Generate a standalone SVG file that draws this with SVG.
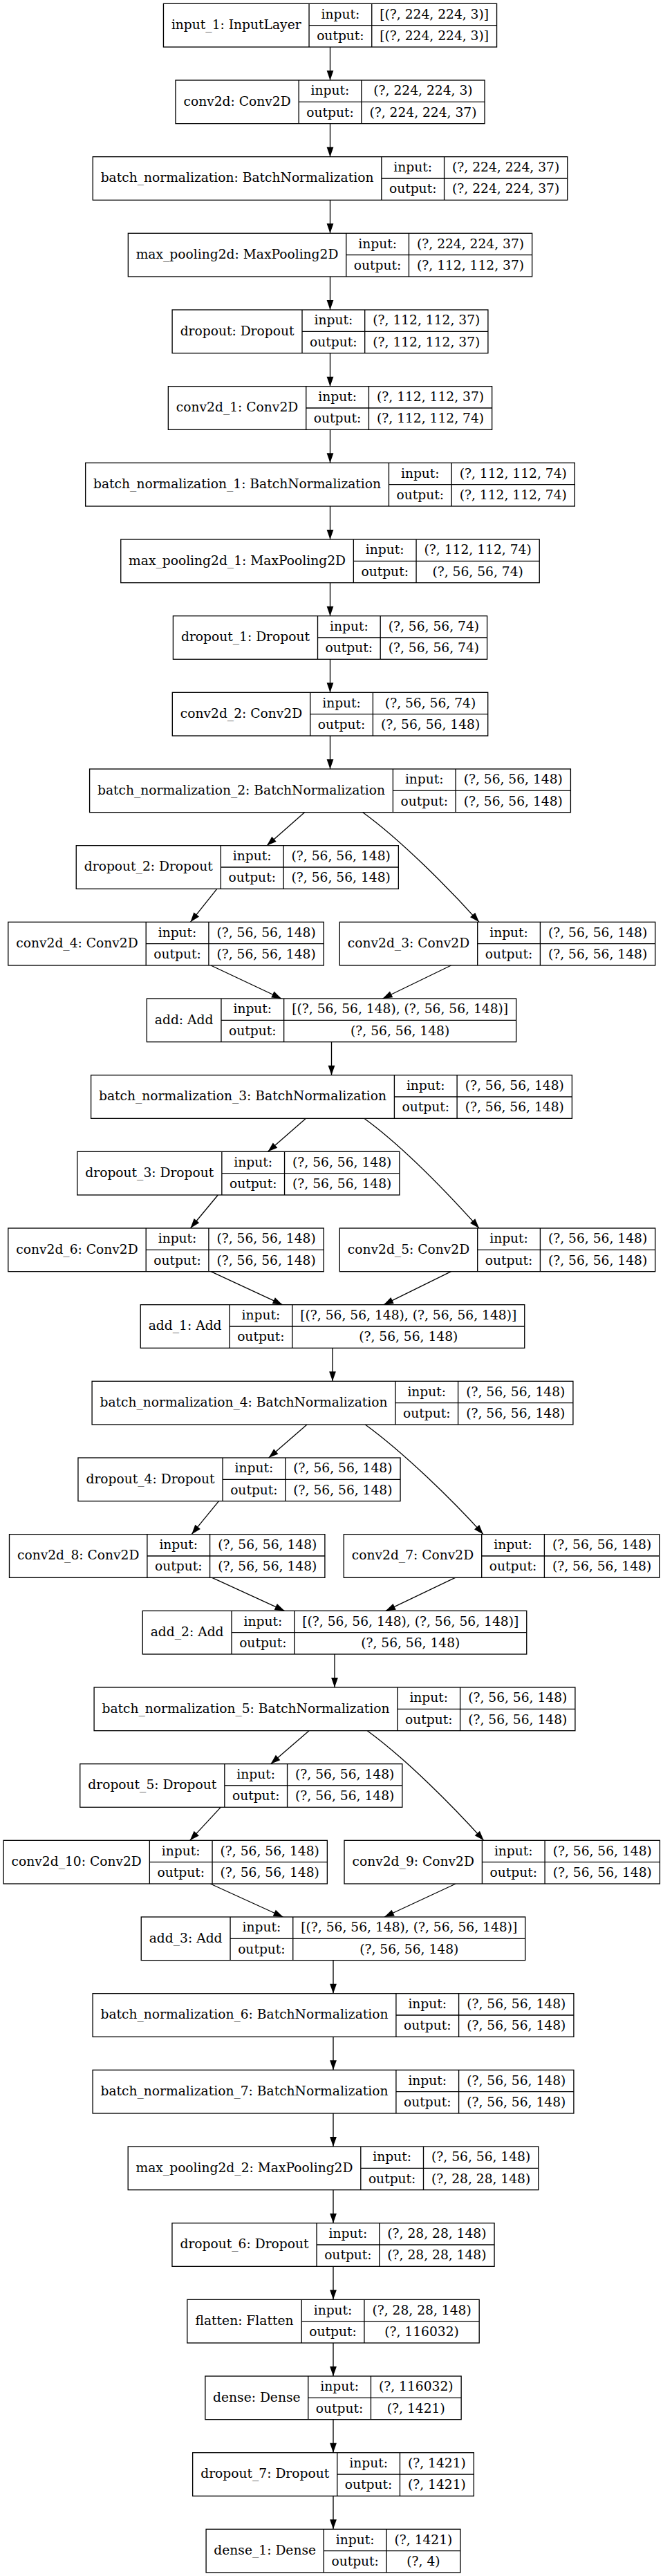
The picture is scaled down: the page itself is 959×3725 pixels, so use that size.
<svg xmlns="http://www.w3.org/2000/svg" width="959" height="3725" viewBox="0 0 959 3725">
<style>
.b{fill:#fff;stroke:#000;stroke-width:1.33}
.d{fill:none;stroke:#000;stroke-width:1.33}
.t{font-family:"DejaVu Serif","Liberation Serif",serif;font-size:18.67px;text-anchor:middle;fill:#000}
.e{fill:none;stroke:#000;stroke-width:1.33;marker-end:url(#ah)}
</style>
<defs>
<marker id="ah" markerUnits="userSpaceOnUse" markerWidth="14" markerHeight="10" refX="13.33" refY="4.67" orient="auto" viewBox="0 0 13.33 9.33" overflow="visible">
<path d="M0,0L13.33,4.67L0,9.33z" fill="#000"/>
</marker>
</defs>
<rect width="959" height="3725" fill="#fff"/>
<g id="connectors">
<path class="e" d="M477.5,68V116"/>
<path class="e" d="M477.5,178.67V226.67"/>
<path class="e" d="M477.5,289.33V337.33"/>
<path class="e" d="M477.5,400V448"/>
<path class="e" d="M477.5,510.67V558.67"/>
<path class="e" d="M477.5,621.33V669.33"/>
<path class="e" d="M477.5,732V780"/>
<path class="e" d="M477.5,842.67V890.67"/>
<path class="e" d="M477.5,953.33V1001.33"/>
<path class="e" d="M477.5,1064V1112"/>
<path class="e" d="M440.5,1174.67L386,1222.67"/>
<path class="e" d="M524.8,1174.67C579.8,1214.67 648,1283.33 693,1333.33"/>
<path class="e" d="M313.8,1285.33L275.5,1333.33"/>
<path class="e" d="M305,1396L407,1444"/>
<path class="e" d="M652.5,1396L553.5,1444"/>
<path class="e" d="M479.5,1506.67V1554.67"/>
<path class="e" d="M442.5,1617.33L387.5,1665.33"/>
<path class="e" d="M526.8,1617.33C581.8,1657.33 648,1726 693,1776"/>
<path class="e" d="M315.3,1728L275.5,1776"/>
<path class="e" d="M305,1838.67L408.5,1886.67"/>
<path class="e" d="M652.5,1838.67L555,1886.67"/>
<path class="e" d="M481,1949.33V1997.33"/>
<path class="e" d="M444,2060L388.7,2108"/>
<path class="e" d="M528.3,2060C583.3,2100 654,2168.67 699,2218.67"/>
<path class="e" d="M316.5,2170.67L277.2,2218.67"/>
<path class="e" d="M306.7,2281.33L411.5,2329.33"/>
<path class="e" d="M658.5,2281.33L558,2329.33"/>
<path class="e" d="M484,2392V2440"/>
<path class="e" d="M447,2502.67L391.5,2550.67"/>
<path class="e" d="M531.3,2502.67C586.3,2542.67 654.7,2611.33 699.7,2661.33"/>
<path class="e" d="M319.3,2613.33L274.7,2661.33"/>
<path class="e" d="M304.2,2724L409.5,2772"/>
<path class="e" d="M659.2,2724L556,2772"/>
<path class="e" d="M482,2834.67V2882.67"/>
<path class="e" d="M482,2945.33V2993.33"/>
<path class="e" d="M482,3056V3104"/>
<path class="e" d="M482,3166.67V3214.67"/>
<path class="e" d="M482,3277.33V3325.33"/>
<path class="e" d="M482,3388V3436"/>
<path class="e" d="M482,3498.67V3546.67"/>
<path class="e" d="M482,3609.33V3657.33"/>
</g>

<g id="input_1" transform="translate(236.45,5.33)">
<rect class="b" width="482.1" height="62.67"/>
<path class="d" d="M210.6,0V62.67M301.3,0V62.67M210.6,31.33H482.1"/>
<text class="t" x="105.3" y="36.8">input_1: InputLayer</text>
<text class="t" x="255.95" y="21.2">input:</text>
<text class="t" x="255.95" y="52.5">output:</text>
<text class="t" x="391.7" y="21.2">[(?, 224, 224, 3)]</text>
<text class="t" x="391.7" y="52.5">[(?, 224, 224, 3)]</text>
</g>
<g id="conv2d" transform="translate(253.95,116)">
<rect class="b" width="447.1" height="62.67"/>
<path class="d" d="M178.2,0V62.67M268.9,0V62.67M178.2,31.33H447.1"/>
<text class="t" x="89.1" y="36.8">conv2d: Conv2D</text>
<text class="t" x="223.55" y="21.2">input:</text>
<text class="t" x="223.55" y="52.5">output:</text>
<text class="t" x="358" y="21.2">(?, 224, 224, 3)</text>
<text class="t" x="358" y="52.5">(?, 224, 224, 37)</text>
</g>
<g id="batch_normalization" transform="translate(134.25,226.67)">
<rect class="b" width="686.5" height="62.67"/>
<path class="d" d="M417.6,0V62.67M508.3,0V62.67M417.6,31.33H686.5"/>
<text class="t" x="208.8" y="36.8">batch_normalization: BatchNormalization</text>
<text class="t" x="462.95" y="21.2">input:</text>
<text class="t" x="462.95" y="52.5">output:</text>
<text class="t" x="597.4" y="21.2">(?, 224, 224, 37)</text>
<text class="t" x="597.4" y="52.5">(?, 224, 224, 37)</text>
</g>
<g id="max_pooling2d" transform="translate(185.35,337.33)">
<rect class="b" width="584.3" height="62.67"/>
<path class="d" d="M315.4,0V62.67M406.1,0V62.67M315.4,31.33H584.3"/>
<text class="t" x="157.7" y="36.8">max_pooling2d: MaxPooling2D</text>
<text class="t" x="360.75" y="21.2">input:</text>
<text class="t" x="360.75" y="52.5">output:</text>
<text class="t" x="495.2" y="21.2">(?, 224, 224, 37)</text>
<text class="t" x="495.2" y="52.5">(?, 112, 112, 37)</text>
</g>
<g id="dropout" transform="translate(249.1,448)">
<rect class="b" width="456.8" height="62.67"/>
<path class="d" d="M187.9,0V62.67M278.6,0V62.67M187.9,31.33H456.8"/>
<text class="t" x="93.95" y="36.8">dropout: Dropout</text>
<text class="t" x="233.25" y="21.2">input:</text>
<text class="t" x="233.25" y="52.5">output:</text>
<text class="t" x="367.7" y="21.2">(?, 112, 112, 37)</text>
<text class="t" x="367.7" y="52.5">(?, 112, 112, 37)</text>
</g>
<g id="conv2d_1" transform="translate(243.35,558.67)">
<rect class="b" width="468.3" height="62.67"/>
<path class="d" d="M199.4,0V62.67M290.1,0V62.67M199.4,31.33H468.3"/>
<text class="t" x="99.7" y="36.8">conv2d_1: Conv2D</text>
<text class="t" x="244.75" y="21.2">input:</text>
<text class="t" x="244.75" y="52.5">output:</text>
<text class="t" x="379.2" y="21.2">(?, 112, 112, 37)</text>
<text class="t" x="379.2" y="52.5">(?, 112, 112, 74)</text>
</g>
<g id="batch_normalization_1" transform="translate(123.65,669.33)">
<rect class="b" width="707.7" height="62.67"/>
<path class="d" d="M438.8,0V62.67M529.5,0V62.67M438.8,31.33H707.7"/>
<text class="t" x="219.4" y="36.8">batch_normalization_1: BatchNormalization</text>
<text class="t" x="484.15" y="21.2">input:</text>
<text class="t" x="484.15" y="52.5">output:</text>
<text class="t" x="618.6" y="21.2">(?, 112, 112, 74)</text>
<text class="t" x="618.6" y="52.5">(?, 112, 112, 74)</text>
</g>
<g id="max_pooling2d_1" transform="translate(174.75,780)">
<rect class="b" width="605.5" height="62.67"/>
<path class="d" d="M336.6,0V62.67M427.3,0V62.67M336.6,31.33H605.5"/>
<text class="t" x="168.3" y="36.8">max_pooling2d_1: MaxPooling2D</text>
<text class="t" x="381.95" y="21.2">input:</text>
<text class="t" x="381.95" y="52.5">output:</text>
<text class="t" x="516.4" y="21.2">(?, 112, 112, 74)</text>
<text class="t" x="516.4" y="52.5">(?, 56, 56, 74)</text>
</g>
<g id="dropout_1" transform="translate(250.4,890.67)">
<rect class="b" width="454.2" height="62.67"/>
<path class="d" d="M209.1,0V62.67M299.8,0V62.67M209.1,31.33H454.2"/>
<text class="t" x="104.55" y="36.8">dropout_1: Dropout</text>
<text class="t" x="254.45" y="21.2">input:</text>
<text class="t" x="254.45" y="52.5">output:</text>
<text class="t" x="377" y="21.2">(?, 56, 56, 74)</text>
<text class="t" x="377" y="52.5">(?, 56, 56, 74)</text>
</g>
<g id="conv2d_2" transform="translate(249.3,1001.33)">
<rect class="b" width="456.4" height="62.67"/>
<path class="d" d="M199.4,0V62.67M290.1,0V62.67M199.4,31.33H456.4"/>
<text class="t" x="99.7" y="36.8">conv2d_2: Conv2D</text>
<text class="t" x="244.75" y="21.2">input:</text>
<text class="t" x="244.75" y="52.5">output:</text>
<text class="t" x="373.25" y="21.2">(?, 56, 56, 74)</text>
<text class="t" x="373.25" y="52.5">(?, 56, 56, 148)</text>
</g>
<g id="batch_normalization_2" transform="translate(129.6,1112)">
<rect class="b" width="695.8" height="62.67"/>
<path class="d" d="M438.8,0V62.67M529.5,0V62.67M438.8,31.33H695.8"/>
<text class="t" x="219.4" y="36.8">batch_normalization_2: BatchNormalization</text>
<text class="t" x="484.15" y="21.2">input:</text>
<text class="t" x="484.15" y="52.5">output:</text>
<text class="t" x="612.65" y="21.2">(?, 56, 56, 148)</text>
<text class="t" x="612.65" y="52.5">(?, 56, 56, 148)</text>
</g>
<g id="dropout_2" transform="translate(110.25,1222.67)">
<rect class="b" width="466.1" height="62.67"/>
<path class="d" d="M209.1,0V62.67M299.8,0V62.67M209.1,31.33H466.1"/>
<text class="t" x="104.55" y="36.8">dropout_2: Dropout</text>
<text class="t" x="254.45" y="21.2">input:</text>
<text class="t" x="254.45" y="52.5">output:</text>
<text class="t" x="382.95" y="21.2">(?, 56, 56, 148)</text>
<text class="t" x="382.95" y="52.5">(?, 56, 56, 148)</text>
</g>
<g id="conv2d_4" transform="translate(11.8,1333.33)">
<rect class="b" width="456.4" height="62.67"/>
<path class="d" d="M199.4,0V62.67M290.1,0V62.67M199.4,31.33H456.4"/>
<text class="t" x="99.7" y="36.8">conv2d_4: Conv2D</text>
<text class="t" x="244.75" y="21.2">input:</text>
<text class="t" x="244.75" y="52.5">output:</text>
<text class="t" x="373.25" y="21.2">(?, 56, 56, 148)</text>
<text class="t" x="373.25" y="52.5">(?, 56, 56, 148)</text>
</g>
<g id="conv2d_3" transform="translate(491.3,1333.33)">
<rect class="b" width="456.4" height="62.67"/>
<path class="d" d="M199.4,0V62.67M290.1,0V62.67M199.4,31.33H456.4"/>
<text class="t" x="99.7" y="36.8">conv2d_3: Conv2D</text>
<text class="t" x="244.75" y="21.2">input:</text>
<text class="t" x="244.75" y="52.5">output:</text>
<text class="t" x="373.25" y="21.2">(?, 56, 56, 148)</text>
<text class="t" x="373.25" y="52.5">(?, 56, 56, 148)</text>
</g>
<g id="add" transform="translate(212.35,1444)">
<rect class="b" width="534.3" height="62.67"/>
<path class="d" d="M107.6,0V62.67M198.3,0V62.67M107.6,31.33H534.3"/>
<text class="t" x="53.8" y="36.8">add: Add</text>
<text class="t" x="152.95" y="21.2">input:</text>
<text class="t" x="152.95" y="52.5">output:</text>
<text class="t" x="366.3" y="21.2">[(?, 56, 56, 148), (?, 56, 56, 148)]</text>
<text class="t" x="366.3" y="52.5">(?, 56, 56, 148)</text>
</g>
<g id="batch_normalization_3" transform="translate(131.6,1554.67)">
<rect class="b" width="695.8" height="62.67"/>
<path class="d" d="M438.8,0V62.67M529.5,0V62.67M438.8,31.33H695.8"/>
<text class="t" x="219.4" y="36.8">batch_normalization_3: BatchNormalization</text>
<text class="t" x="484.15" y="21.2">input:</text>
<text class="t" x="484.15" y="52.5">output:</text>
<text class="t" x="612.65" y="21.2">(?, 56, 56, 148)</text>
<text class="t" x="612.65" y="52.5">(?, 56, 56, 148)</text>
</g>
<g id="dropout_3" transform="translate(111.75,1665.33)">
<rect class="b" width="466.1" height="62.67"/>
<path class="d" d="M209.1,0V62.67M299.8,0V62.67M209.1,31.33H466.1"/>
<text class="t" x="104.55" y="36.8">dropout_3: Dropout</text>
<text class="t" x="254.45" y="21.2">input:</text>
<text class="t" x="254.45" y="52.5">output:</text>
<text class="t" x="382.95" y="21.2">(?, 56, 56, 148)</text>
<text class="t" x="382.95" y="52.5">(?, 56, 56, 148)</text>
</g>
<g id="conv2d_6" transform="translate(11.8,1776)">
<rect class="b" width="456.4" height="62.67"/>
<path class="d" d="M199.4,0V62.67M290.1,0V62.67M199.4,31.33H456.4"/>
<text class="t" x="99.7" y="36.8">conv2d_6: Conv2D</text>
<text class="t" x="244.75" y="21.2">input:</text>
<text class="t" x="244.75" y="52.5">output:</text>
<text class="t" x="373.25" y="21.2">(?, 56, 56, 148)</text>
<text class="t" x="373.25" y="52.5">(?, 56, 56, 148)</text>
</g>
<g id="conv2d_5" transform="translate(491.3,1776)">
<rect class="b" width="456.4" height="62.67"/>
<path class="d" d="M199.4,0V62.67M290.1,0V62.67M199.4,31.33H456.4"/>
<text class="t" x="99.7" y="36.8">conv2d_5: Conv2D</text>
<text class="t" x="244.75" y="21.2">input:</text>
<text class="t" x="244.75" y="52.5">output:</text>
<text class="t" x="373.25" y="21.2">(?, 56, 56, 148)</text>
<text class="t" x="373.25" y="52.5">(?, 56, 56, 148)</text>
</g>
<g id="add_1" transform="translate(203.25,1886.67)">
<rect class="b" width="555.5" height="62.67"/>
<path class="d" d="M128.8,0V62.67M219.5,0V62.67M128.8,31.33H555.5"/>
<text class="t" x="64.4" y="36.8">add_1: Add</text>
<text class="t" x="174.15" y="21.2">input:</text>
<text class="t" x="174.15" y="52.5">output:</text>
<text class="t" x="387.5" y="21.2">[(?, 56, 56, 148), (?, 56, 56, 148)]</text>
<text class="t" x="387.5" y="52.5">(?, 56, 56, 148)</text>
</g>
<g id="batch_normalization_4" transform="translate(133.1,1997.33)">
<rect class="b" width="695.8" height="62.67"/>
<path class="d" d="M438.8,0V62.67M529.5,0V62.67M438.8,31.33H695.8"/>
<text class="t" x="219.4" y="36.8">batch_normalization_4: BatchNormalization</text>
<text class="t" x="484.15" y="21.2">input:</text>
<text class="t" x="484.15" y="52.5">output:</text>
<text class="t" x="612.65" y="21.2">(?, 56, 56, 148)</text>
<text class="t" x="612.65" y="52.5">(?, 56, 56, 148)</text>
</g>
<g id="dropout_4" transform="translate(112.95,2108)">
<rect class="b" width="466.1" height="62.67"/>
<path class="d" d="M209.1,0V62.67M299.8,0V62.67M209.1,31.33H466.1"/>
<text class="t" x="104.55" y="36.8">dropout_4: Dropout</text>
<text class="t" x="254.45" y="21.2">input:</text>
<text class="t" x="254.45" y="52.5">output:</text>
<text class="t" x="382.95" y="21.2">(?, 56, 56, 148)</text>
<text class="t" x="382.95" y="52.5">(?, 56, 56, 148)</text>
</g>
<g id="conv2d_8" transform="translate(13.5,2218.67)">
<rect class="b" width="456.4" height="62.67"/>
<path class="d" d="M199.4,0V62.67M290.1,0V62.67M199.4,31.33H456.4"/>
<text class="t" x="99.7" y="36.8">conv2d_8: Conv2D</text>
<text class="t" x="244.75" y="21.2">input:</text>
<text class="t" x="244.75" y="52.5">output:</text>
<text class="t" x="373.25" y="21.2">(?, 56, 56, 148)</text>
<text class="t" x="373.25" y="52.5">(?, 56, 56, 148)</text>
</g>
<g id="conv2d_7" transform="translate(497.3,2218.67)">
<rect class="b" width="456.4" height="62.67"/>
<path class="d" d="M199.4,0V62.67M290.1,0V62.67M199.4,31.33H456.4"/>
<text class="t" x="99.7" y="36.8">conv2d_7: Conv2D</text>
<text class="t" x="244.75" y="21.2">input:</text>
<text class="t" x="244.75" y="52.5">output:</text>
<text class="t" x="373.25" y="21.2">(?, 56, 56, 148)</text>
<text class="t" x="373.25" y="52.5">(?, 56, 56, 148)</text>
</g>
<g id="add_2" transform="translate(206.25,2329.33)">
<rect class="b" width="555.5" height="62.67"/>
<path class="d" d="M128.8,0V62.67M219.5,0V62.67M128.8,31.33H555.5"/>
<text class="t" x="64.4" y="36.8">add_2: Add</text>
<text class="t" x="174.15" y="21.2">input:</text>
<text class="t" x="174.15" y="52.5">output:</text>
<text class="t" x="387.5" y="21.2">[(?, 56, 56, 148), (?, 56, 56, 148)]</text>
<text class="t" x="387.5" y="52.5">(?, 56, 56, 148)</text>
</g>
<g id="batch_normalization_5" transform="translate(136.1,2440)">
<rect class="b" width="695.8" height="62.67"/>
<path class="d" d="M438.8,0V62.67M529.5,0V62.67M438.8,31.33H695.8"/>
<text class="t" x="219.4" y="36.8">batch_normalization_5: BatchNormalization</text>
<text class="t" x="484.15" y="21.2">input:</text>
<text class="t" x="484.15" y="52.5">output:</text>
<text class="t" x="612.65" y="21.2">(?, 56, 56, 148)</text>
<text class="t" x="612.65" y="52.5">(?, 56, 56, 148)</text>
</g>
<g id="dropout_5" transform="translate(115.75,2550.67)">
<rect class="b" width="466.1" height="62.67"/>
<path class="d" d="M209.1,0V62.67M299.8,0V62.67M209.1,31.33H466.1"/>
<text class="t" x="104.55" y="36.8">dropout_5: Dropout</text>
<text class="t" x="254.45" y="21.2">input:</text>
<text class="t" x="254.45" y="52.5">output:</text>
<text class="t" x="382.95" y="21.2">(?, 56, 56, 148)</text>
<text class="t" x="382.95" y="52.5">(?, 56, 56, 148)</text>
</g>
<g id="conv2d_10" transform="translate(5.05,2661.33)">
<rect class="b" width="468.3" height="62.67"/>
<path class="d" d="M211.3,0V62.67M302,0V62.67M211.3,31.33H468.3"/>
<text class="t" x="105.65" y="36.8">conv2d_10: Conv2D</text>
<text class="t" x="256.65" y="21.2">input:</text>
<text class="t" x="256.65" y="52.5">output:</text>
<text class="t" x="385.15" y="21.2">(?, 56, 56, 148)</text>
<text class="t" x="385.15" y="52.5">(?, 56, 56, 148)</text>
</g>
<g id="conv2d_9" transform="translate(498,2661.33)">
<rect class="b" width="456.4" height="62.67"/>
<path class="d" d="M199.4,0V62.67M290.1,0V62.67M199.4,31.33H456.4"/>
<text class="t" x="99.7" y="36.8">conv2d_9: Conv2D</text>
<text class="t" x="244.75" y="21.2">input:</text>
<text class="t" x="244.75" y="52.5">output:</text>
<text class="t" x="373.25" y="21.2">(?, 56, 56, 148)</text>
<text class="t" x="373.25" y="52.5">(?, 56, 56, 148)</text>
</g>
<g id="add_3" transform="translate(204.25,2772)">
<rect class="b" width="555.5" height="62.67"/>
<path class="d" d="M128.8,0V62.67M219.5,0V62.67M128.8,31.33H555.5"/>
<text class="t" x="64.4" y="36.8">add_3: Add</text>
<text class="t" x="174.15" y="21.2">input:</text>
<text class="t" x="174.15" y="52.5">output:</text>
<text class="t" x="387.5" y="21.2">[(?, 56, 56, 148), (?, 56, 56, 148)]</text>
<text class="t" x="387.5" y="52.5">(?, 56, 56, 148)</text>
</g>
<g id="batch_normalization_6" transform="translate(134.1,2882.67)">
<rect class="b" width="695.8" height="62.67"/>
<path class="d" d="M438.8,0V62.67M529.5,0V62.67M438.8,31.33H695.8"/>
<text class="t" x="219.4" y="36.8">batch_normalization_6: BatchNormalization</text>
<text class="t" x="484.15" y="21.2">input:</text>
<text class="t" x="484.15" y="52.5">output:</text>
<text class="t" x="612.65" y="21.2">(?, 56, 56, 148)</text>
<text class="t" x="612.65" y="52.5">(?, 56, 56, 148)</text>
</g>
<g id="batch_normalization_7" transform="translate(134.1,2993.33)">
<rect class="b" width="695.8" height="62.67"/>
<path class="d" d="M438.8,0V62.67M529.5,0V62.67M438.8,31.33H695.8"/>
<text class="t" x="219.4" y="36.8">batch_normalization_7: BatchNormalization</text>
<text class="t" x="484.15" y="21.2">input:</text>
<text class="t" x="484.15" y="52.5">output:</text>
<text class="t" x="612.65" y="21.2">(?, 56, 56, 148)</text>
<text class="t" x="612.65" y="52.5">(?, 56, 56, 148)</text>
</g>
<g id="max_pooling2d_2" transform="translate(185.2,3104)">
<rect class="b" width="593.6" height="62.67"/>
<path class="d" d="M336.6,0V62.67M427.3,0V62.67M336.6,31.33H593.6"/>
<text class="t" x="168.3" y="36.8">max_pooling2d_2: MaxPooling2D</text>
<text class="t" x="381.95" y="21.2">input:</text>
<text class="t" x="381.95" y="52.5">output:</text>
<text class="t" x="510.45" y="21.2">(?, 56, 56, 148)</text>
<text class="t" x="510.45" y="52.5">(?, 28, 28, 148)</text>
</g>
<g id="dropout_6" transform="translate(248.95,3214.67)">
<rect class="b" width="466.1" height="62.67"/>
<path class="d" d="M209.1,0V62.67M299.8,0V62.67M209.1,31.33H466.1"/>
<text class="t" x="104.55" y="36.8">dropout_6: Dropout</text>
<text class="t" x="254.45" y="21.2">input:</text>
<text class="t" x="254.45" y="52.5">output:</text>
<text class="t" x="382.95" y="21.2">(?, 28, 28, 148)</text>
<text class="t" x="382.95" y="52.5">(?, 28, 28, 148)</text>
</g>
<g id="flatten" transform="translate(270.8,3325.33)">
<rect class="b" width="422.4" height="62.67"/>
<path class="d" d="M165.4,0V62.67M256.1,0V62.67M165.4,31.33H422.4"/>
<text class="t" x="82.7" y="36.8">flatten: Flatten</text>
<text class="t" x="210.75" y="21.2">input:</text>
<text class="t" x="210.75" y="52.5">output:</text>
<text class="t" x="339.25" y="21.2">(?, 28, 28, 148)</text>
<text class="t" x="339.25" y="52.5">(?, 116032)</text>
</g>
<g id="dense" transform="translate(296.85,3436)">
<rect class="b" width="370.3" height="62.67"/>
<path class="d" d="M148.9,0V62.67M239.6,0V62.67M148.9,31.33H370.3"/>
<text class="t" x="74.45" y="36.8">dense: Dense</text>
<text class="t" x="194.25" y="21.2">input:</text>
<text class="t" x="194.25" y="52.5">output:</text>
<text class="t" x="304.95" y="21.2">(?, 116032)</text>
<text class="t" x="304.95" y="52.5">(?, 1421)</text>
</g>
<g id="dropout_7" transform="translate(278.65,3546.67)">
<rect class="b" width="406.7" height="62.67"/>
<path class="d" d="M209.1,0V62.67M299.8,0V62.67M209.1,31.33H406.7"/>
<text class="t" x="104.55" y="36.8">dropout_7: Dropout</text>
<text class="t" x="254.45" y="21.2">input:</text>
<text class="t" x="254.45" y="52.5">output:</text>
<text class="t" x="353.25" y="21.2">(?, 1421)</text>
<text class="t" x="353.25" y="52.5">(?, 1421)</text>
</g>
<g id="dense_1" transform="translate(298.1,3657.33)">
<rect class="b" width="367.8" height="62.67"/>
<path class="d" d="M170.2,0V62.67M260.9,0V62.67M170.2,31.33H367.8"/>
<text class="t" x="85.1" y="36.8">dense_1: Dense</text>
<text class="t" x="215.55" y="21.2">input:</text>
<text class="t" x="215.55" y="52.5">output:</text>
<text class="t" x="314.35" y="21.2">(?, 1421)</text>
<text class="t" x="314.35" y="52.5">(?, 4)</text>
</g>
</svg>
